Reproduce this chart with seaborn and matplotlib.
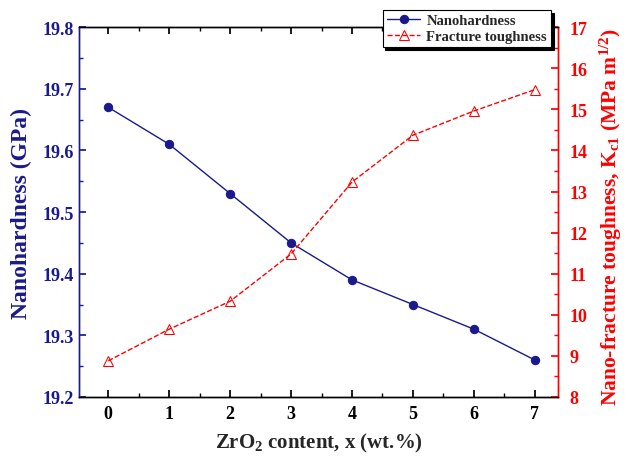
import matplotlib
matplotlib.use("Agg")
import matplotlib.pyplot as plt
import seaborn as sns
import pandas as pd
from matplotlib.ticker import MultipleLocator

sns.set_theme(style="white")
plt.rcParams['font.family'] = ['Liberation Serif', 'DejaVu Serif']
plt.rcParams['font.weight'] = 'bold'
plt.rcParams['mathtext.default'] = 'regular'

zro2 = [0, 1, 2, 3, 4, 5, 6, 7]
nanohardness = [19.67, 19.61, 19.53, 19.45, 19.39, 19.35, 19.31, 19.26]
toughness = [8.88, 9.65, 10.33, 11.48, 13.23, 14.37, 14.96, 15.48]

df = pd.DataFrame({"x": zro2, "H": nanohardness, "K": toughness})

NAVY = "#1a1a8c"
RED = "#ff0000"

fig = plt.figure(figsize=(6.29, 4.60), dpi=100)
ax = fig.add_axes([0.1256, 0.1348, 0.7615, 0.804])
ax2 = ax.twinx()

sns.lineplot(data=df, x="x", y="H", ax=ax, color=NAVY, marker="o", markersize=6,
             markeredgecolor=NAVY, linewidth=1.0, label="Nanohardness", legend=False)
sns.lineplot(data=df, x="x", y="K", ax=ax2, color=RED, marker="^", markersize=7,
             markerfacecolor="none", markeredgecolor=RED, linestyle="--", dashes=(4, 3),
             linewidth=1.0, label="Fracture toughness", legend=False)

ax.set_xlim(-0.48, 7.38)
ax.set_ylim(19.2, 19.8)
ax2.set_ylim(8, 17)
ax.xaxis.set_major_locator(MultipleLocator(1))
ax.xaxis.set_minor_locator(MultipleLocator(0.5))
ax.yaxis.set_major_locator(MultipleLocator(0.1))
ax.yaxis.set_minor_locator(MultipleLocator(0.05))
ax2.yaxis.set_major_locator(MultipleLocator(1))
ax2.yaxis.set_minor_locator(MultipleLocator(0.5))

ax.set_yticklabels([f"{v:.1f}" for v in ax.get_yticks()])

ax.tick_params(axis='x', which='both', direction='in', top=True, bottom=True,
               labelsize=13, colors='black', pad=6)
ax.tick_params(axis='x', which='major', length=5)
ax.tick_params(axis='x', which='minor', length=3)
ax.tick_params(axis='y', which='both', direction='in', left=True, right=False,
               labelsize=13, colors=NAVY)
ax.tick_params(axis='y', which='major', length=5)
ax.tick_params(axis='y', which='minor', length=3)
ax2.tick_params(axis='y', which='both', direction='in', right=True, left=False,
                labelsize=13, colors=RED, pad=8)
ax2.tick_params(axis='y', which='major', length=5)
ax2.tick_params(axis='y', which='minor', length=3)

for a in (ax, ax2):
    for s in a.spines.values():
        s.set_linewidth(1.0)
        s.set_color('black')
ax.spines['left'].set_color(NAVY)
ax2.spines['left'].set_color(NAVY)
ax2.spines['right'].set_color(RED)
ax.spines['right'].set_color(RED)

for lbl in ax.get_xticklabels() + ax.get_yticklabels() + ax2.get_yticklabels():
    lbl.set_fontweight('bold')

ax.set_xlabel("ZrO$_2$ content, x (wt.%)", fontsize=15, fontweight='bold', labelpad=6)
ax.set_ylabel("Nanohardness (GPa)", fontsize=17, fontweight='bold', color=NAVY, labelpad=8)
ax2.set_ylabel("Nano-fracture toughness, K$_{c1}$ (MPa m$^{1/2}$)", fontsize=15.5,
               fontweight='bold', color=RED)
ax2.yaxis.set_label_coords(1.084, 0.49)

h1, l1 = ax.get_legend_handles_labels()
h2, l2 = ax2.get_legend_handles_labels()
leg = ax2.legend(h1 + h2, l1 + l2, loc='upper right', bbox_to_anchor=(0.986, 1.047),
                 frameon=True, shadow={'color': 'black', 'alpha': 1.0}, fancybox=False,
                 prop={'weight': 'bold', 'size': 10.5}, handlelength=2.3,
                 borderpad=0.3, labelspacing=0.15, handletextpad=0.4, borderaxespad=0)
leg.get_frame().set_edgecolor('black')
leg.get_frame().set_facecolor('white')
leg.get_frame().set_alpha(1.0)
leg.get_frame().set_linewidth(0.8)

fig.savefig("out.png", dpi=100)
